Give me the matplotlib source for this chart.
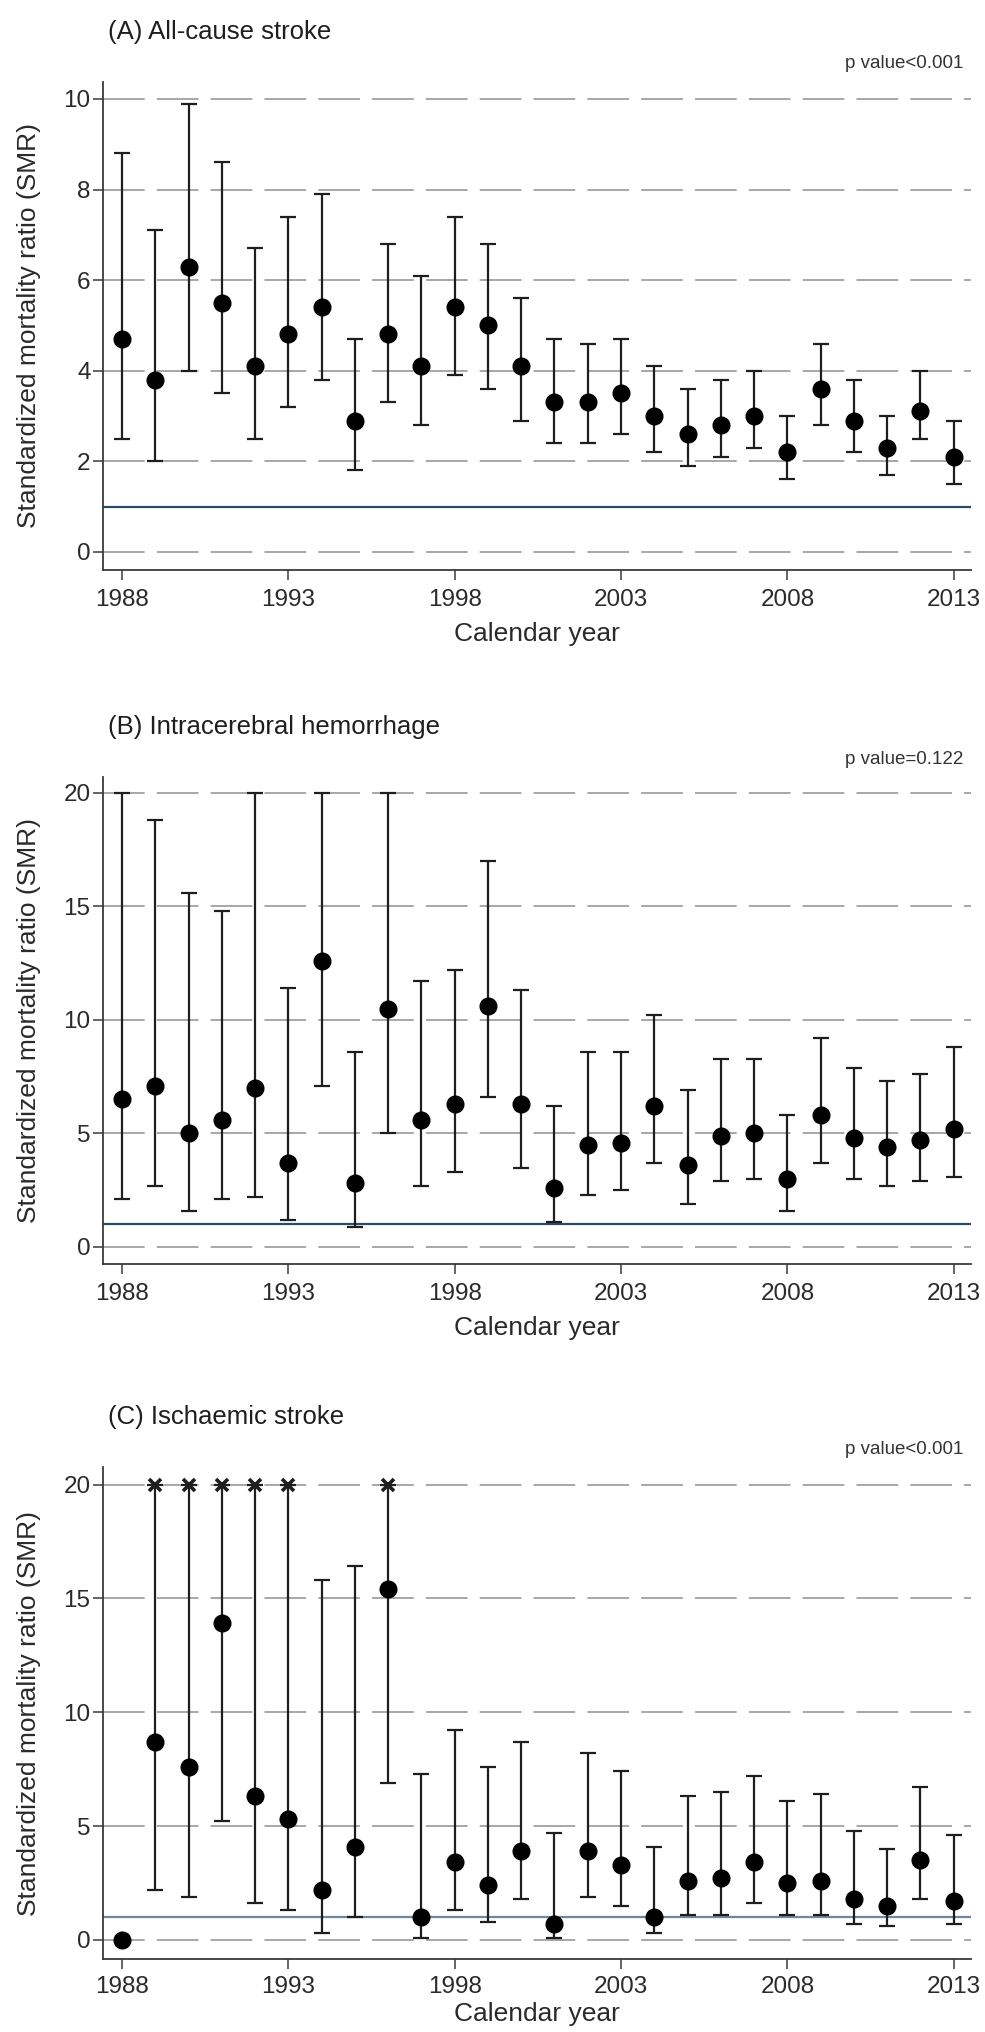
import numpy as np
import matplotlib
matplotlib.use("Agg")
import matplotlib.pyplot as plt

plt.rcParams["font.family"] = ["Liberation Sans", "DejaVu Sans"]

YEARS = [1988, 1989, 1990, 1991, 1992, 1993, 1994, 1995, 1996, 1997, 1998, 1999, 2000,
         2001, 2002, 2003, 2004, 2005, 2006, 2007, 2008, 2009, 2010, 2011, 2012, 2013]
XTICKS = [1988, 1993, 1998, 2003, 2008, 2013]

# (A) all-cause stroke
smr_a = [4.7, 3.8, 6.3, 5.5, 4.1, 4.8, 5.4, 2.9, 4.8, 4.1, 5.4, 5.0, 4.1,
         3.3, 3.3, 3.5, 3.0, 2.6, 2.8, 3.0, 2.2, 3.6, 2.9, 2.3, 3.1, 2.1]
upper_a = [8.8, 7.1, 9.9, 8.6, 6.7, 7.4, 7.9, 4.7, 6.8, 6.1, 7.4, 6.8, 5.6,
           4.7, 4.6, 4.7, 4.1, 3.6, 3.8, 4.0, 3.0, 4.6, 3.8, 3.0, 4.0, 2.9]
lower_a = [2.5, 2.0, 4.0, 3.5, 2.5, 3.2, 3.8, 1.8, 3.3, 2.8, 3.9, 3.6, 2.9,
           2.4, 2.4, 2.6, 2.2, 1.9, 2.1, 2.3, 1.6, 2.8, 2.2, 1.7, 2.5, 1.5]

# (B) intracerebral hemorrhage
smr_b = [6.5, 7.1, 5.0, 5.6, 7.0, 3.7, 12.6, 2.8, 10.5, 5.6, 6.3, 10.6, 6.3,
         2.6, 4.5, 4.6, 6.2, 3.6, 4.9, 5.0, 3.0, 5.8, 4.8, 4.4, 4.7, 5.2]
upper_b = [20.0, 18.8, 15.6, 14.8, 20.0, 11.4, 20.0, 8.6, 20.0, 11.7, 12.2, 17.0, 11.3,
           6.2, 8.6, 8.6, 10.2, 6.9, 8.3, 8.3, 5.8, 9.2, 7.9, 7.3, 7.6, 8.8]
lower_b = [2.1, 2.7, 1.6, 2.1, 2.2, 1.2, 7.1, 0.9, 5.0, 2.7, 3.3, 6.6, 3.5,
           1.1, 2.3, 2.5, 3.7, 1.9, 2.9, 3.0, 1.6, 3.7, 3.0, 2.7, 2.9, 3.1]

# (C) ischaemic stroke, upper limits above 20 are cut at 20
smr_c = [0.0, 8.7, 7.6, 13.9, 6.3, 5.3, 2.2, 4.1, 15.4, 1.0, 3.4, 2.4, 3.9,
         0.7, 3.9, 3.3, 1.0, 2.6, 2.7, 3.4, 2.5, 2.6, 1.8, 1.5, 3.5, 1.7]
upper_c = [None, 20.0, 20.0, 20.0, 20.0, 20.0, 15.8, 16.4, 20.0, 7.3, 9.2, 7.6, 8.7,
           4.7, 8.2, 7.4, 4.1, 6.3, 6.5, 7.2, 6.1, 6.4, 4.8, 4.0, 6.7, 4.6]
lower_c = [None, 2.2, 1.9, 5.2, 1.6, 1.3, 0.3, 1.0, 6.9, 0.1, 1.3, 0.8, 1.8,
           0.1, 1.9, 1.5, 0.3, 1.1, 1.1, 1.6, 1.1, 1.1, 0.7, 0.6, 1.8, 0.7]
truncated_c = [1989, 1990, 1991, 1992, 1993, 1996]

W, H = 985, 2032
LEFT, RIGHT = 103, 971
INK = "#1e1e1e"
GRID = "#9c9c9c"


def draw_panel(fig, top_px, bottom_px, ylim, yticks, title, pvalue, smr, lower, upper,
               ref_color, truncated=(), xlabel_px=52, xpad=7):
    h = bottom_px - top_px
    ax = fig.add_axes([LEFT / W, 1 - bottom_px / H, (RIGHT - LEFT) / W, h / H])
    x = np.array(YEARS, dtype=float)
    y = np.array(smr, dtype=float)
    lo = np.array(lower, dtype=float)
    hi = np.array(upper, dtype=float)
    ok = np.isfinite(lo) & np.isfinite(hi)

    ax.axhline(1, color=ref_color, lw=1.6, zorder=2)
    ax.errorbar(x[ok], y[ok], yerr=[y[ok] - lo[ok], hi[ok] - y[ok]], fmt="none",
                ecolor=INK, elinewidth=1.6, capsize=5.5, capthick=1.6, zorder=3)
    ax.plot(x, y, "o", color="black", ms=12, zorder=4)
    if truncated:
        idx = [YEARS.index(yr) for yr in truncated]
        ax.plot(x[idx], hi[idx], "x", color=INK, ms=8, mew=2.6, zorder=4)

    ax.set_xlim(1987.43, 2013.52)
    ax.set_ylim(*ylim)
    ax.set_xticks(XTICKS)
    ax.set_yticks(yticks)
    ax.yaxis.grid(True, linestyle=(0, (24, 7)), color=GRID, lw=1.25, zorder=0)
    ax.set_axisbelow(True)
    for side in ("top", "right"):
        ax.spines[side].set_visible(False)
    for side in ("left", "bottom"):
        ax.spines[side].set_color("#3a3a3a")
        ax.spines[side].set_linewidth(1.3)
    ax.tick_params(axis="both", direction="out", length=7, width=1.1, color="#3a3a3a",
                   labelsize=17.5, labelcolor="#2a2a2a")
    ax.tick_params(axis="y", pad=2)
    ax.tick_params(axis="x", pad=xpad)

    ax.set_ylabel("Standardized mortality ratio (SMR)", fontsize=19, color="#2a2a2a")
    ax.yaxis.set_label_coords(-0.071, 0.5)
    ax.set_xlabel("Calendar year", fontsize=19, color="#2a2a2a")
    ax.xaxis.set_label_coords(0.5, -xlabel_px / h)

    ax.text(0.006, 1 + 50 / h, title, transform=ax.transAxes, ha="left", va="center",
            fontsize=18.5, color=INK)
    ax.text(0.991, 1 + 18 / h, pvalue, transform=ax.transAxes, ha="right", va="center",
            fontsize=13.5, color="#333333")
    return ax


def main() -> None:
    fig = plt.figure(figsize=(W / 100, H / 100), dpi=100)
    fig.patch.set_facecolor("white")
    draw_panel(fig, 82, 570, (-0.4, 10.375), [0, 2, 4, 6, 8, 10],
               "(A) All-cause stroke", "p value<0.001", smr_a, lower_a, upper_a, "#2b4a68")
    draw_panel(fig, 777, 1264, (-0.75, 20.7), [0, 5, 10, 15, 20],
               "(B) Intracerebral hemorrhage", "p value=0.122", smr_b, lower_b, upper_b, "#2b4a68")
    draw_panel(fig, 1467, 1959, (-0.84, 20.77), [0, 5, 10, 15, 20],
               "(C) Ischaemic stroke", "p value<0.001", smr_c, lower_c, upper_c, "#6d87a0",
               truncated=truncated_c, xlabel_px=43, xpad=5)
    fig.savefig("out.png", dpi=100)


if __name__ == "__main__":
    main()
